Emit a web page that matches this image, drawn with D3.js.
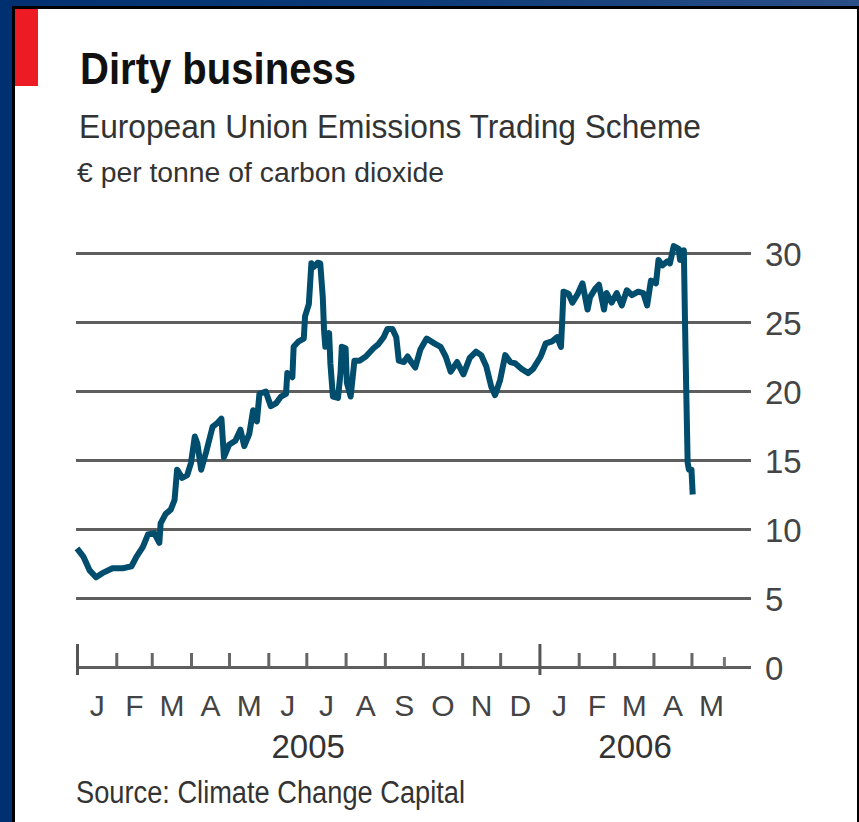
<!DOCTYPE html>
<html>
<head>
<meta charset="utf-8">
<script src="https://cdn.jsdelivr.net/npm/d3@7"></script>
<style>
  html, body { margin: 0; padding: 0; background: #003070; }
  svg { display: block; }
  text { font-family: "Liberation Sans Narrow", "Liberation Sans", Arial, sans-serif; }
</style>
</head>
<body>
<svg id="chart" width="859" height="822"></svg>
<script>
// ---------- data ----------
const dates = [
  "2005-01-01","2005-01-06","2005-01-11","2005-01-16","2005-01-21","2005-01-29","2005-02-06","2005-02-13",
  "2005-02-17","2005-02-22","2005-02-26","2005-03-03","2005-03-07","2005-03-08","2005-03-12","2005-03-16",
  "2005-03-19","2005-03-21","2005-03-25","2005-03-29","2005-04-01","2005-04-04","2005-04-06","2005-04-09",
  "2005-04-13","2005-04-18","2005-04-22","2005-04-25","2005-04-27","2005-05-01","2005-05-06","2005-05-10",
  "2005-05-13","2005-05-17","2005-05-20","2005-05-23","2005-05-25","2005-05-30","2005-06-03","2005-06-07",
  "2005-06-11","2005-06-15","2005-06-16","2005-06-20","2005-06-21","2005-06-25","2005-06-29","2005-06-30",
  "2005-07-03","2005-07-05","2005-07-07","2005-07-10","2005-07-12","2005-07-14","2005-07-15","2005-07-16",
  "2005-07-19","2005-07-20","2005-07-22","2005-07-26","2005-07-28","2005-07-29","2005-08-01","2005-08-02",
  "2005-08-05","2005-08-08","2005-08-12","2005-08-17","2005-08-23","2005-08-27","2005-08-31","2005-09-03",
  "2005-09-07","2005-09-10","2005-09-12","2005-09-16","2005-09-19","2005-09-21","2005-09-25","2005-09-29",
  "2005-10-04","2005-10-10","2005-10-15","2005-10-19","2005-10-23","2005-10-28","2005-11-02","2005-11-07",
  "2005-11-12","2005-11-16","2005-11-20","2005-11-24","2005-11-27","2005-12-01","2005-12-05","2005-12-09",
  "2005-12-13","2005-12-18","2005-12-23","2005-12-27","2006-01-02","2006-01-06","2006-01-11","2006-01-15",
  "2006-01-18","2006-01-19","2006-01-20","2006-01-24","2006-01-27","2006-01-31","2006-02-04","2006-02-08",
  "2006-02-10","2006-02-14","2006-02-17","2006-02-21","2006-02-23","2006-02-27","2006-03-03","2006-03-07",
  "2006-03-11","2006-03-15","2006-03-20","2006-03-24","2006-03-27","2006-03-30","2006-04-03","2006-04-05",
  "2006-04-08","2006-04-12","2006-04-14","2006-04-17","2006-04-21","2006-04-22","2006-04-25","2006-04-26",
  "2006-04-27","2006-04-28","2006-04-29","2006-05-01","2006-05-02"
];
const prices = [
  8.6, 8.0, 7.0, 6.5, 6.8, 7.15, 7.15, 7.3,
  8.0, 8.7, 9.6, 9.7, 9.0, 10.4, 11.1, 11.4,
  12.1, 14.3, 13.7, 13.9, 14.8, 16.7, 16.2, 14.3,
  15.6, 17.4, 17.7, 18.0, 15.2, 16.1, 16.4, 17.2,
  16.0, 16.9, 18.6, 17.8, 19.8, 19.95, 18.9, 19.1,
  19.6, 19.8, 21.3, 21.0, 23.2, 23.6, 23.8, 25.4,
  26.3, 29.25, 29.0, 29.3, 29.25, 26.8, 24.4, 23.2,
  24.2, 22.0, 19.6, 19.5, 21.3, 23.2, 23.1, 20.6,
  19.6, 22.2, 22.2, 22.5, 23.1, 23.4, 23.9, 24.5,
  24.5, 23.9, 22.2, 22.1, 22.5, 22.2, 21.7, 23.0,
  23.8, 23.45, 23.2, 22.5, 21.4, 22.1, 21.2, 22.4,
  22.85, 22.6, 21.8, 20.3, 19.7, 20.8, 22.6, 22.1,
  22.0, 21.6, 21.3, 21.6, 22.5, 23.45, 23.6, 23.9,
  23.2, 25.1, 27.2, 27.05, 26.4, 27.0, 27.8, 25.9,
  26.8, 27.4, 27.7, 25.9, 27.1, 26.4, 27.1, 26.2,
  27.3, 26.95, 27.2, 27.1, 26.2, 28.0, 27.8, 29.5,
  29.1, 29.4, 29.25, 30.5, 30.3, 29.5, 30.2, 24.5,
  19.5, 14.8, 14.3, 14.3, 12.5
];
const yTicks = [0, 5, 10, 15, 20, 25, 30];
const monthLabels = ["J","F","M","A","M","J","J","A","S","O","N","D","J","F","M","A","M"];
const yearLabels = ["2005", "2006"];
const domainStart = "2005-01-01";
const domainEnd = "2006-06-17";
const extraTick = "2006-05-27";
const titleText = "Dirty business";
const subtitleText = "European Union Emissions Trading Scheme";
const unitText = "\u20AC per tonne of carbon dioxide";
const sourceText = "Source: Climate Change Capital";

// ---------- setup ----------
const svg = d3.select("#chart");
const W = 859, H = 822;
const parse = d3.utcParse("%Y-%m-%d");
const series = dates.map((d, i) => ({ date: parse(d), value: prices[i] }));

const x = d3.scaleUtc().domain([parse(domainStart), parse(domainEnd)]).range([77, 751]);
const y = d3.scaleLinear().domain([0, 30]).range([667, 253]);

// background
const defs = svg.append("defs");
const grad = defs.append("linearGradient").attr("id", "bg").attr("x1", "0").attr("x2", "1").attr("y1", "0").attr("y2", "0");
grad.append("stop").attr("offset", "0%").attr("stop-color", "#003070");
grad.append("stop").attr("offset", "50%").attr("stop-color", "#0d3b78");
grad.append("stop").attr("offset", "100%").attr("stop-color", "#2b4f87");
svg.append("rect").attr("width", W).attr("height", H).attr("fill", "url(#bg)");

// panel with black border
svg.append("rect").attr("x", 12).attr("y", 6).attr("width", W - 12).attr("height", H)
  .attr("fill", "#000");
svg.append("rect").attr("x", 15).attr("y", 9).attr("width", 857 - 15).attr("height", H)
  .attr("fill", "#ffffff");
// red tab
svg.append("rect").attr("x", 15).attr("y", 9).attr("width", 23).attr("height", 77).attr("fill", "#ed1c24");

// titles
svg.append("text").attr("x", 80).attr("y", 84).text(titleText)
  .attr("font-size", 45).attr("font-weight", "bold").attr("fill", "#111")
  .attr("textLength", 276).attr("lengthAdjust", "spacingAndGlyphs");
svg.append("text").attr("x", 79).attr("y", 138).text(subtitleText)
  .attr("font-size", 34).attr("fill", "#333")
  .attr("textLength", 622).attr("lengthAdjust", "spacingAndGlyphs");
svg.append("text").attr("x", 77).attr("y", 182).text(unitText)
  .attr("font-size", 27).attr("fill", "#333")
  .attr("textLength", 367).attr("lengthAdjust", "spacingAndGlyphs");

// gridlines + y labels (right)
const yAxis = svg.append("g").attr("transform", "translate(751,0)")
  .call(d3.axisRight(y).tickValues(yTicks).tickSize(-675).tickPadding(14).tickFormat(d3.format("d")));
yAxis.select(".domain").remove();
yAxis.selectAll(".tick line").attr("stroke", "#5e5e5e").attr("stroke-width", 3);
yAxis.selectAll(".tick text").attr("font-size", 33).attr("fill", "#444").attr("dy", "0.39em")
  .attr("font-family", "\"Liberation Sans Narrow\", \"Liberation Sans\", Arial, sans-serif");

// x ticks (upward)
const monthStarts = d3.utcMonths(parse("2005-01-01"), parse("2006-05-02"));
const xAxis = svg.append("g").attr("transform", "translate(0,667)")
  .call(d3.axisTop(x).tickValues(monthStarts).tickSize(14).tickFormat(""));
xAxis.select(".domain").remove();
xAxis.selectAll(".tick line").attr("stroke", "#666").attr("stroke-width", 3)
  .filter(d => d.getUTCMonth() === 0)
  .attr("y1", 8).attr("y2", -23).attr("stroke", "#555");
// extra short tick
svg.append("line").attr("x1", x(parse(extraTick))).attr("x2", x(parse(extraTick)))
  .attr("y1", 667).attr("y2", 657).attr("stroke", "#777").attr("stroke-width", 3);

// month labels
const midMonths = monthStarts.map(d => new Date((+d + +d3.utcMonth.offset(d, 1)) / 2));
const lab = svg.append("g").attr("transform", "translate(0,716)")
  .call(d3.axisBottom(x).tickValues(midMonths).tickSize(0).tickPadding(0)
    .tickFormat((d, i) => monthLabels[i]));
lab.select(".domain").remove();
lab.selectAll(".tick text").attr("dy", 0).attr("font-size", 30).attr("fill", "#444")
  .attr("font-family", "\"Liberation Sans Narrow\", \"Liberation Sans\", Arial, sans-serif");

// year labels centred under their months
yearLabels.forEach((yr, k) => {
  const mids = midMonths.filter(d => d.getUTCFullYear() === +yr);
  const cx = (x(mids[0]) + x(mids[mids.length - 1])) / 2;
  svg.append("text").attr("x", cx).attr("y", 758).attr("text-anchor", "middle")
    .attr("font-size", 33).attr("fill", "#333").text(yr);
});

// line
const line = d3.line().x(d => x(d.date)).y(d => y(d.value));
svg.append("path").datum(series).attr("d", line)
  .attr("fill", "none").attr("stroke", "#004d6d").attr("stroke-width", 6)
  .attr("stroke-linejoin", "round").attr("stroke-linecap", "butt");

// source
svg.append("text").attr("x", 76).attr("y", 803).text(sourceText)
  .attr("font-size", 31).attr("fill", "#333")
  .attr("textLength", 389).attr("lengthAdjust", "spacingAndGlyphs");
</script>
</body>
</html>
